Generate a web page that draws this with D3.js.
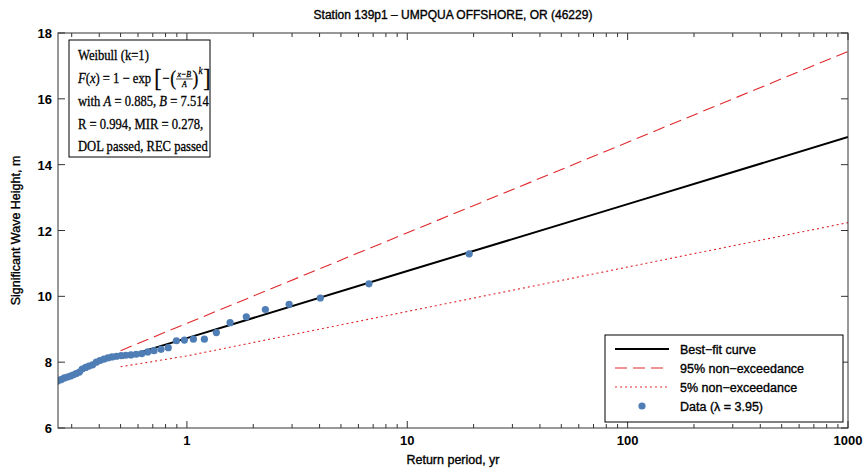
<!DOCTYPE html>
<html>
<head>
<meta charset="utf-8">
<script src="https://d3js.org/d3.v7.min.js"></script>
<style>
  body { margin: 0; background: #fff; }
  svg { display: block; }
  text { font-family: "Liberation Sans", Arial, sans-serif; fill: #000; white-space: pre; }
  .tick-label { font-size: 13px; font-weight: bold; }
  .heavy { stroke: #000; stroke-width: 0.35px; }
  .serif text { font-family: "Liberation Serif", "DejaVu Serif", serif; stroke: #000; stroke-width: 0.3px; }
</style>
</head>
<body>
<script>
  // values
  var returnPeriod = [19.1, 6.7, 4.03, 2.91, 2.27, 1.86, 1.57, 1.36, 1.20, 1.07,
                      0.974, 0.896, 0.823, 0.763, 0.709, 0.664, 0.624, 0.588, 0.557, 0.528,
                      0.503, 0.479, 0.457, 0.438, 0.420, 0.403, 0.388, 0.373, 0.359, 0.347,
                      0.335, 0.325, 0.314, 0.304, 0.296, 0.287, 0.278, 0.270, 0.264, 0.257];
  var waveHeight = [11.29, 10.38, 9.95, 9.76, 9.60, 9.38, 9.20, 8.90, 8.70, 8.70,
                    8.67, 8.65, 8.44, 8.39, 8.35, 8.31, 8.26, 8.24, 8.22, 8.21,
                    8.20, 8.18, 8.16, 8.13, 8.09, 8.05, 8.00, 7.92, 7.88, 7.84,
                    7.79, 7.70, 7.65, 7.61, 7.58, 7.55, 7.52, 7.48, 7.45, 7.41];

  var curvePeriod = [0.5, 1, 10, 100, 1000];
  var bestFit = [8.12, 8.73, 10.77, 12.80, 14.84];
  var upper95 = [8.35, 9.18, 11.93, 14.68, 17.44];
  var lower5 = [7.86, 8.19, 9.54, 10.89, 12.24];

  var xMajor = [1, 10, 100, 1000];
  var yTicks = [6, 8, 10, 12, 14, 16, 18];

  var title = "Station 139p1 \u2013 UMPQUA OFFSHORE, OR (46229)";
  var legendLabels = ["Best\u2212fit curve", "95% non\u2212exceedance", "5% non\u2212exceedance", "Data (\u03bb = 3.95)"];

  var W = 864, H = 473;
  var margin = {top: 33, right: 16, bottom: 45, left: 58};
  var width = W - margin.left - margin.right,
      height = H - margin.top - margin.bottom;

  var x = d3.scaleLog().domain([0.26, 1000]).range([0, width]);
  var y = d3.scaleLinear().domain([6, 18]).range([height, 0]);

  var xMinor = [];
  [0.1, 1, 10, 100].forEach(function(d) {
    for (var k = 2; k <= 9; k++) {
      var v = d * k;
      if (v >= 0.26 && v <= 1000) xMinor.push(v);
    }
  });

  var svg = d3.select("body").append("svg")
      .attr("width", W)
      .attr("height", H);

  svg.append("text")
      .attr("class", "heavy")
      .attr("x", margin.left + width / 2)
      .attr("y", 19)
      .attr("text-anchor", "middle")
      .style("font-size", "12px")
      .text(title);

  var g = svg.append("g")
      .attr("transform", `translate(${margin.left},${margin.top})`);

  g.append("clipPath").attr("id", "clip")
    .append("rect").attr("width", width).attr("height", height);

  // ticks, inward on all four sides
  var tickColor = "#333";
  function vTicks(vals, len) {
    vals.forEach(function(v) {
      g.append("line").attr("x1", x(v)).attr("x2", x(v))
        .attr("y1", height).attr("y2", height - len).attr("stroke", tickColor);
      g.append("line").attr("x1", x(v)).attr("x2", x(v))
        .attr("y1", 0).attr("y2", len).attr("stroke", tickColor);
    });
  }
  vTicks(xMinor, 4);
  vTicks(xMajor, 7);

  yTicks.forEach(function(v) {
    g.append("line").attr("x1", 0).attr("x2", 7)
      .attr("y1", y(v)).attr("y2", y(v)).attr("stroke", tickColor);
    g.append("line").attr("x1", width).attr("x2", width - 7)
      .attr("y1", y(v)).attr("y2", y(v)).attr("stroke", tickColor);
  });

  g.selectAll(".xlab").data(xMajor).enter().append("text")
      .attr("class", "tick-label")
      .attr("x", d => x(d))
      .attr("y", height + 17)
      .attr("text-anchor", "middle")
      .text(d => d);

  g.selectAll(".ylab").data(yTicks).enter().append("text")
      .attr("class", "tick-label")
      .attr("x", -6)
      .attr("y", d => y(d) + 5)
      .attr("text-anchor", "end")
      .text(d => d);

  g.append("text")
      .attr("class", "heavy")
      .attr("x", width / 2)
      .attr("y", height + 36)
      .attr("text-anchor", "middle")
      .style("font-size", "12.5px")
      .text("Return period, yr");

  g.append("text")
      .attr("class", "heavy")
      .attr("transform", `translate(-38,${height / 2}) rotate(-90)`)
      .attr("text-anchor", "middle")
      .style("font-size", "12.5px")
      .text("Significant Wave Height, m");

  var plot = g.append("g").attr("clip-path", "url(#clip)");

  var line = d3.line()
      .x((d, i) => x(curvePeriod[i]))
      .y(d => y(d));

  var red = "#e0282c";

  plot.append("path").datum(upper95)
      .attr("d", line).attr("fill", "none")
      .attr("stroke", red).attr("stroke-width", 1.1)
      .attr("stroke-dasharray", "12,6");

  plot.append("path").datum(lower5)
      .attr("d", line).attr("fill", "none")
      .attr("stroke", red).attr("stroke-width", 1.1)
      .attr("stroke-dasharray", "2,3");

  plot.append("path").datum(bestFit)
      .attr("d", line).attr("fill", "none")
      .attr("stroke", "#000").attr("stroke-width", 2);

  var dotColor = "#4f7db5";
  plot.selectAll(".dot").data(returnPeriod).enter().append("circle")
      .attr("cx", d => x(d))
      .attr("cy", (d, i) => y(waveHeight[i]))
      .attr("r", 3.6)
      .attr("fill", dotColor);

  // frame
  g.append("rect")
      .attr("width", width).attr("height", height)
      .attr("fill", "none").attr("stroke", tickColor);

  // info box, top left
  var info = g.append("g").attr("class", "serif")
      .attr("transform", "translate(11,7)");
  info.append("rect")
      .attr("width", 141).attr("height", 117)
      .attr("fill", "#fff").attr("stroke", "#000");
  // text squeezed a little sideways to look like the LaTeX font
  var tg = info.append("g").attr("transform", "translate(9,0) scale(0.87,1)");

  var fs = 14.5;
  function addLine(parts, ty) {
    var cx = 0;
    parts.forEach(function(p) {
      var t = tg.append("text")
          .attr("x", cx)
          .attr("y", ty + (p.dy || 0))
          .style("font-size", (p.size || fs) + "px")
          .style("font-style", p.it ? "italic" : "normal")
          .text(p.s);
      cx += t.node().getComputedTextLength() + (p.pad || 0);
    });
    return cx;
  }

  addLine([{s: "Weibull (k=1)"}], 20);
  // F(x) = 1 - exp[-((x-B)/A)^k]
  var fy = 43;
  var cx = addLine([{s: "F", it: true}, {s: "("}, {s: "x", it: true}, {s: ") = 1 \u2212 exp "},
                    {s: "[", size: 25, dy: 3, pad: 1}, {s: "\u2212", pad: 1}, {s: "(", size: 20, dy: 2}], fy);
  var fracW = 19;
  tg.append("text").attr("x", cx + fracW / 2).attr("y", fy - 6)
      .attr("text-anchor", "middle").style("font-size", "9px").style("font-style", "italic").text("x\u2212B");
  tg.append("line").attr("x1", cx).attr("x2", cx + fracW)
      .attr("y1", fy - 4).attr("y2", fy - 4).attr("stroke", "#000").attr("stroke-width", 0.8);
  tg.append("text").attr("x", cx + fracW / 2).attr("y", fy + 4.5)
      .attr("text-anchor", "middle").style("font-size", "9px").style("font-style", "italic").text("A");
  cx += fracW;
  var t1 = tg.append("text").attr("x", cx).attr("y", fy + 2).style("font-size", "20px").text(")");
  cx += t1.node().getComputedTextLength();
  var t2 = tg.append("text").attr("x", cx).attr("y", fy - 9).style("font-size", "10.5px").style("font-style", "italic").text("k");
  cx += t2.node().getComputedTextLength() + 1;
  tg.append("text").attr("x", cx).attr("y", fy + 3).style("font-size", "25px").text("]");

  addLine([{s: "with "}, {s: "A", it: true}, {s: " = 0.885, "}, {s: "B", it: true}, {s: " = 7.514"}], 66);
  addLine([{s: "R = 0.994, MIR = 0.278,"}], 89);
  addLine([{s: "DOL passed, REC passed"}], 111);

  // legend, bottom right
  var lg = g.append("g").attr("transform", "translate(547,302)");
  lg.append("rect")
      .attr("width", 238).attr("height", 87)
      .attr("fill", "#fff").attr("stroke", "#000");

  var legendStyles = [
    {stroke: "#000", w: 2, dash: null},
    {stroke: red, w: 1.1, dash: "12,6"},
    {stroke: red, w: 1.1, dash: "2,3"},
    {dot: true}
  ];

  legendLabels.forEach(function(lab, i) {
    var ly = 14 + i * 19;
    var st = legendStyles[i];
    if (st.dot) {
      lg.append("circle").attr("cx", 37).attr("cy", ly).attr("r", 3.6).attr("fill", dotColor);
    } else {
      lg.append("line").attr("x1", 10).attr("x2", 64)
        .attr("y1", ly).attr("y2", ly)
        .attr("stroke", st.stroke).attr("stroke-width", st.w)
        .attr("stroke-dasharray", st.dash);
    }
    lg.append("text")
      .attr("class", "heavy")
      .attr("x", 75).attr("y", ly + 4.5)
      .style("font-size", "12.5px")
      .text(lab);
  });
</script>
</body>
</html>
